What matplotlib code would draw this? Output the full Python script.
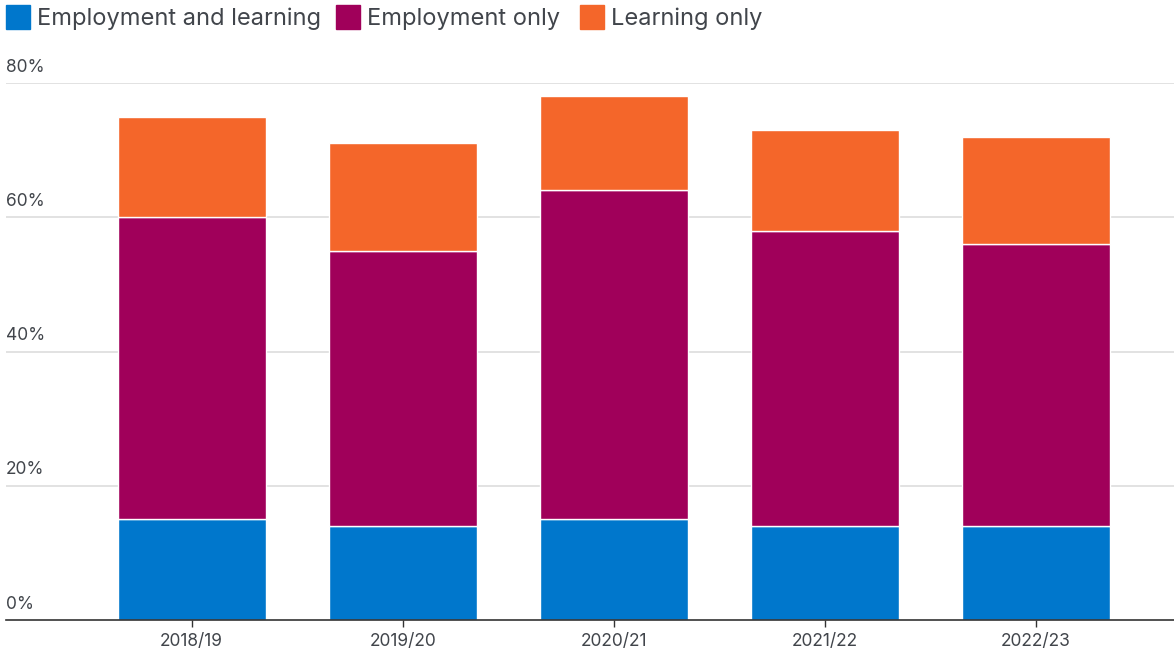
import matplotlib
matplotlib.use('Agg')

import numpy as np
import matplotlib.pyplot as plt
from matplotlib.patches import Rectangle

plt.rcParams['font.family'] = ['Inter', 'DejaVu Sans']

years = ['2018/19', '2019/20', '2020/21', '2021/22', '2022/23']
series_names = ['Employment and learning', 'Employment only', 'Learning only']
emp_and_learning = [15, 14, 15, 14, 14]
emp_only = [45, 41, 49, 44, 42]
learning_only = [15, 16, 14, 15, 16]
yticks = [0, 20, 40, 60, 80]

colors = ['#0077cc', '#a0005a', '#f4662a']
text_col = '#41454b'

W, H = 1174, 652
fig = plt.figure(figsize=(W / 100, H / 100), dpi=100)
ax = fig.add_axes([6 / W, 32 / H, (W - 6) / W, (620 - 83) / H])

x = np.arange(len(years))
bottom = np.zeros(len(years))
for vals, c in zip([emp_and_learning, emp_only, learning_only], colors):
    ax.bar(x, vals, width=0.7, bottom=bottom, color=c,
           edgecolor='white', linewidth=1, zorder=3)
    bottom += np.array(vals)

ax.set_ylim(0, 80)
ax.set_xlim(-0.88, 4.655)

# gridlines, with labels sitting above them on the left
for t in yticks[1:]:
    ax.axhline(t, color='#dddddd', linewidth=1.2, zorder=1)
ax.set_yticks([])
for t in yticks:
    ax.text(0, t + 1.1, '%d%%' % t, transform=ax.get_yaxis_transform(),
            ha='left', va='bottom', fontsize=12.5, color=text_col)

ax.set_xticks(x)
ax.set_xticklabels(years, fontsize=12.5, color=text_col)
ax.tick_params(axis='x', length=5, width=1, color='#333333', pad=4)

for s in ['top', 'right', 'left']:
    ax.spines[s].set_visible(False)
ax.spines['bottom'].set_color('#333333')
ax.spines['bottom'].set_linewidth(1.2)
ax.spines['bottom'].set_zorder(4)

# legend along the top
leg_x = [6, 336, 580]
for lx, name, c in zip(leg_x, series_names, colors):
    fig.patches.append(Rectangle((lx / W, 1 - 29 / H), 24 / W, 24 / H,
                                 transform=fig.transFigure, color=c))
    fig.text((lx + 31) / W, 1 - 18.5 / H, name, fontsize=17,
             color=text_col, ha='left', va='center')

fig.savefig('out.png', dpi=100)
